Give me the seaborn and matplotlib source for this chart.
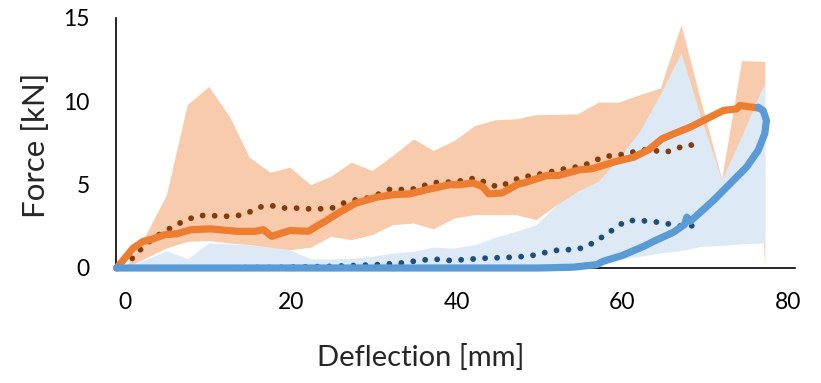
import matplotlib
matplotlib.use("Agg")
import matplotlib.pyplot as plt
import pandas as pd
import seaborn as sns

# ---------------------------------------------------------------------------
# data
# ---------------------------------------------------------------------------

# envelope bands (same deflection grid for both)
band_x = [0, 2.5, 5.0, 7.5, 10.1, 12.6, 15.0, 17.5, 19.9, 22.4, 24.8, 27.3,
          29.8, 32.3, 34.8, 37.2, 39.7, 42.2, 44.7, 47.2, 49.6, 52.1, 54.6,
          57.1, 59.6, 62.1, 64.6, 67.1, 69.5, 72.0, 74.4, 76.9, 77.2]
orange_max = [0, 2.0, 4.4, 9.8, 10.9, 9.1, 6.65, 5.75, 6.05, 5.0, 5.5, 6.35,
              5.85, 6.75, 7.75, 7.05, 7.65, 8.55, 8.9, 8.95, 9.2, 9.22, 9.25,
              9.95, 9.95, 10.4, 10.8, 14.6, 10.0, 5.35, 12.45, 12.4, 12.4]
orange_min = [0, 0.6, 1.2, 1.6, 1.65, 1.5, 1.4, 1.2, 1.1, 1.25, 1.9, 1.7,
              2.0, 2.6, 2.7, 2.35, 3.0, 3.2, 3.2, 3.2, 2.9, 3.8, 4.3,
              5.0, 6.25, 8.15, 8.5, 8.0, 6.5, 5.0, 4.0, 3.0, 0]
blue_max = [0, 0.5, 1.05, 0.55, 1.5, 1.45, 1.4, 1.25, 1.1, 0.55, 0.55, 0.58,
            0.7, 0.9, 1.0, 1.25, 1.2, 1.4, 1.85, 2.2, 2.6, 3.8, 4.6,
            5.2, 6.6, 8.2, 10.45, 12.9, 9.0, 5.3, 7.9, 10.8, 11.0]
blue_min = [0, 0, 0, 0, 0, 0, 0, 0, 0, 0, 0, 0,
            0, 0, 0, 0, 0, 0, 0, 0, 0, 0, 0.1,
            0.35, 0.55, 0.7, 0.9, 1.05, 1.3, 1.35, 1.45, 1.5, 1.5]

# mean loading curve (orange)
load_x = [-1.0, 1.0, 2.2, 3.4, 4.8, 6.2, 8.0, 10.3, 13.5, 15.7, 16.7, 17.7,
          19.9, 22.1, 24.3, 25.9, 27.9, 30.4, 32.4, 34.4, 36.4, 39.2, 40.4,
          42.0, 43.1, 43.9, 45.5, 47.5, 48.1, 50.9, 52.3, 54.9, 56.3, 59.3,
          61.4, 63.2, 64.8, 66.2, 68.2, 70.2, 72.2, 73.8, 74.2, 76.4]
load_y = [0, 1.2, 1.6, 1.75, 2.0, 2.05, 2.3, 2.35, 2.2, 2.2, 2.3, 1.9,
          2.25, 2.2, 2.85, 3.35, 3.9, 4.25, 4.4, 4.45, 4.7, 5.0, 5.0,
          5.1, 4.9, 4.45, 4.5, 5.05, 5.1, 5.55, 5.55, 5.9, 5.95, 6.4,
          6.65, 7.1, 7.75, 8.05, 8.45, 8.95, 9.45, 9.55, 9.75, 9.6]

# unloading curve (blue), deflection goes back down
unload_x = [76.4, 77.0, 77.4, 77.2, 76.4, 75.0, 73.0, 71.0, 69.0, 68.2,
            67.8, 67.5, 66.2, 64.0, 62.6, 60.0, 57.7, 56.9, 54.1, 50.0, -1.0]
unload_y = [9.65, 9.45, 8.85, 8.05, 7.05, 6.05, 5.05, 4.05, 3.15, 2.8,
            3.05, 2.6, 2.15, 1.65, 1.3, 0.75, 0.4, 0.2, 0.05, 0, 0]

# dotted reference curves
ref_load_x = [0, 1.2, 3.4, 4.8, 6.2, 7.5, 8.9, 10.3, 11.9, 13.4, 14.8, 16.2,
              17.6, 19.0, 20.5, 22.0, 23.5, 25.0, 26.4, 27.9, 29.3, 30.7,
              32.1, 33.6, 35.0, 36.4, 37.8, 39.4, 40.8, 42.3, 43.8, 45.1,
              46.4, 47.8, 49.3, 50.7, 52.1, 53.6, 55.1, 56.5, 57.9, 59.3,
              60.9, 62.3, 63.8, 65.3, 66.7, 68.1, 69.5]
ref_load_y = [0, 0.8, 1.8, 2.2, 2.6, 2.9, 3.15, 3.15, 3.1, 3.12, 3.3, 3.65,
              3.75, 3.6, 3.6, 3.55, 3.55, 3.6, 3.9, 4.1, 4.2, 4.45,
              4.75, 4.7, 4.75, 5.0, 5.15, 5.15, 5.25, 5.4, 5.05, 4.85,
              5.15, 5.45, 5.55, 5.7, 5.85, 6.0, 6.1, 6.4, 6.7, 6.75,
              6.9, 7.1, 7.05, 6.95, 7.2, 7.4, 7.25]
ref_unload_x = [0, 10.0, 20.0, 25.0, 30.4, 33.4, 34.8, 36.4, 37.8, 39.3, 40.8,
                42.3, 43.8, 45.3, 46.8, 48.3, 49.8, 51.2, 52.7, 54.2, 55.6,
                56.9, 58.2, 59.4, 60.6, 61.9, 63.5, 65.0, 66.6, 68.0, 69.4]
ref_unload_y = [0, 0, 0.05, 0.1, 0.2, 0.3, 0.4, 0.5, 0.52, 0.45, 0.5,
                0.55, 0.6, 0.62, 0.65, 0.7, 0.8, 1.0, 1.1, 1.1, 1.25,
                1.65, 2.05, 2.5, 2.85, 2.85, 2.8, 2.7, 2.55, 2.45, 2.75]

x_ticks = [0, 20, 40, 60, 80]
y_ticks = [0, 5, 10, 15]

# ---------------------------------------------------------------------------
# plot
# ---------------------------------------------------------------------------
sns.set_style("white")
plt.rcParams["font.family"] = ["Lato", "DejaVu Sans"]

orange = "#ED7D31"
blue = "#5B9BD5"
brown = "#843C0C"
navy = "#1F4E79"

band = pd.DataFrame({"x": band_x, "omax": orange_max, "omin": orange_min,
                     "bmax": blue_max, "bmin": blue_min})
load = pd.DataFrame({"x": load_x, "y": load_y})
unload = pd.DataFrame({"x": unload_x, "y": unload_y})
ref_load = pd.DataFrame({"x": ref_load_x, "y": ref_load_y})
ref_unload = pd.DataFrame({"x": ref_unload_x, "y": ref_unload_y})

fig = plt.figure(figsize=(8.21, 3.83), dpi=100)
ax = fig.add_axes([116 / 821, 115 / 383, 679 / 821, 250 / 383])

ax.fill_between(band["x"], band["omin"], band["omax"], color="#F8CBAD",
                linewidth=0, zorder=1)
ax.fill_between(band["x"], band["bmin"], band["bmax"], color="#DDEAF6",
                linewidth=0, zorder=2)

dots = dict(linewidth=4.2, linestyle=(0, (0.01, 2.05)),
            dash_capstyle="round", clip_on=False)
sns.lineplot(data=ref_unload, x="x", y="y", ax=ax, color=navy, sort=False,
             estimator=None, zorder=3, **dots)
sns.lineplot(data=ref_load, x="x", y="y", ax=ax, color=brown, sort=False,
             estimator=None, zorder=3, **dots)
sns.lineplot(data=load, x="x", y="y", ax=ax, color=orange, linewidth=5.2,
             sort=False, estimator=None, zorder=4, clip_on=False,
             solid_joinstyle="round")
sns.lineplot(data=unload, x="x", y="y", ax=ax, color=blue, linewidth=5.2,
             sort=False, estimator=None, zorder=5, clip_on=False,
             solid_joinstyle="round", solid_capstyle="round")

ax.set_xlim(-1.09, 80.85)
ax.set_ylim(0, 15)
ax.set_xticks(x_ticks)
ax.set_yticks(y_ticks)
ax.tick_params(axis="both", length=0, labelsize=16.5, colors="black")
ax.tick_params(axis="x", pad=17)
ax.tick_params(axis="y", pad=19)

sns.despine(ax=ax)
for side in ["left", "bottom"]:
    ax.spines[side].set_color("black")
    ax.spines[side].set_linewidth(1.2)
    ax.spines[side].set_zorder(0.5)

ax.set_xlabel("Deflection [mm]", fontsize=21)
ax.set_ylabel("Force [kN]", fontsize=22.5)
ax.xaxis.set_label_coords(0.448, -0.305)
ax.yaxis.set_label_coords(-0.097, 0.492)

plt.savefig("out.png", dpi=100)
